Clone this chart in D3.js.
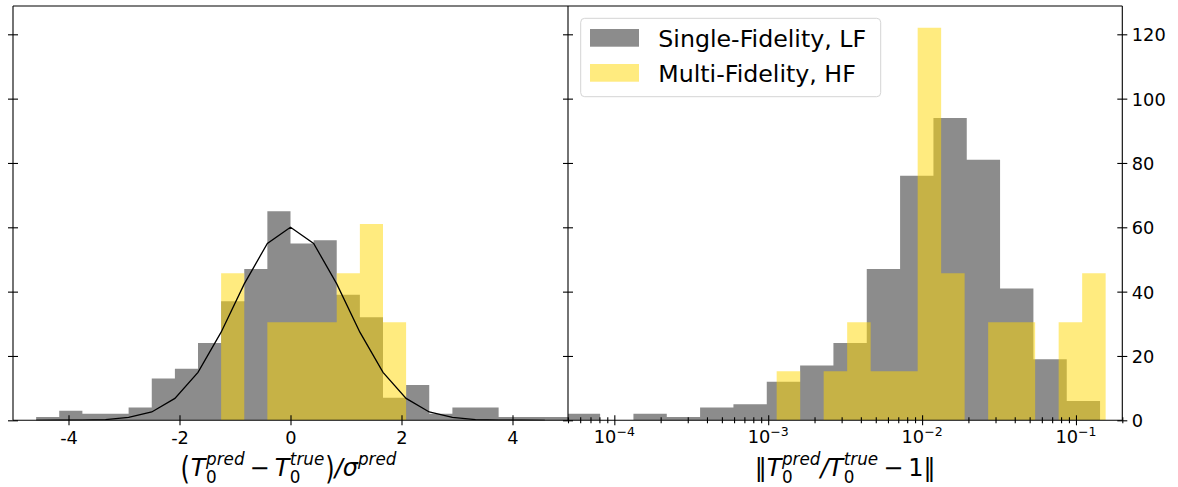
<!DOCTYPE html>
<html>
<head>
<meta charset="utf-8">
<script src="https://cdn.jsdelivr.net/npm/d3@7"></script>
<style>
  html, body { margin: 0; padding: 0; background: #fff; }
  svg { display: block; font-family: "DejaVu Sans", sans-serif; }
</style>
</head>
<body>
<svg id="chart" width="1178" height="487"></svg>
<script>
// ---------------- DATA ----------------
// Left panel: standardized residuals, histogram bin edges (shared by both series)
const leftEdges = [-4.583, -4.167, -3.75, -3.333, -2.917, -2.5, -2.083, -1.667, -1.25, -0.833, -0.417, 0,
                   0.417, 0.833, 1.25, 1.667, 2.083, 2.5, 2.917, 3.333, 3.75, 4.167, 4.583, 5.0];
const leftSingleLF = [1, 3, 2, 2, 4, 13, 16, 24, 37, 47, 65, 55, 56, 39, 32, 7, 11, 2, 4, 4, 1, 1, 1];
const leftMultiEdges = [-1.25, -0.833, -0.417, 0, 0.417, 0.833, 1.25, 1.667, 2.083];
const leftMultiHF = [45.75, 0, 30.5, 30.5, 30.5, 45.75, 61, 30.5];
// reference normal curve (at the bin edges)
const curveX = [-4.583, -4.167, -3.75, -3.333, -2.917, -2.5, -2.083, -1.667, -1.25, -0.833, -0.417, 0,
                0.417, 0.833, 1.25, 1.667, 2.083, 2.5, 2.917, 3.333, 3.75, 4.167, 4.583];
const curveY = [0, 0.01, 0.05, 0.23, 0.9, 2.6, 6.8, 14.9, 27.4, 42.4, 55, 60,
                55, 42.4, 27.4, 14.9, 6.8, 2.6, 0.9, 0.23, 0.05, 0.01, 0];

// Right panel: relative error, log-spaced bins
const rightSingleEdges = [4.909e-5, 8.085e-5, 1.331e-4, 2.192e-4, 3.609e-4, 5.943e-4, 9.786e-4, 1.612e-3,
                          2.653e-3, 4.369e-3, 7.194e-3, 1.185e-2, 1.951e-2, 3.212e-2, 5.289e-2, 8.71e-2, 0.1434];
const rightSingleLF = [2, 0, 2, 1, 4, 5, 12, 17, 24, 47, 76, 94, 81, 41, 19, 6];
const rightMultiEdges = [1.135e-3, 1.614e-3, 2.293e-3, 3.259e-3, 4.632e-3, 6.583e-3, 9.359e-3, 1.33e-2,
                         1.89e-2, 2.687e-2, 3.819e-2, 5.428e-2, 7.716e-2, 0.1097, 0.1559];
const rightMultiHF = [15.25, 0, 15.25, 30.5, 15.25, 15.25, 122, 45.75, 0, 30.5, 30.5, 0, 30.5, 45.75];

const yTicks = [0, 20, 40, 60, 80, 100, 120];
const leftXTicks = [-4, -2, 0, 2, 4];
const rightXTicks = [1e-4, 1e-3, 1e-2, 1e-1];
const rightXTickExp = ["\u22124", "\u22123", "\u22122", "\u22121"];
const seriesNames = ["Single-Fidelity, LF", "Multi-Fidelity, HF"];

// ---------------- LAYOUT / STYLE ----------------
const TOP = 6, BOTTOM = 420.3, LX0 = 13, MID = 568, RX1 = 1122.3;
const GRAY = "#8c8c8c", GOLD = "#ffd700", GOLD_ALPHA = 0.5;
const TICK_FS = 17.8, LABEL_FS = 24, LEG_FS = 23.7;

const svg = d3.select("#chart");
const xL = d3.scaleLinear().domain([-5, 5]).range([LX0, MID]);
const xR = d3.scaleLog().domain([5e-5, 0.2]).range([MID, RX1]);
const y = d3.scaleLinear().domain([0, 128.8]).range([BOTTOM, TOP]);

const defs = svg.append("defs");
defs.append("clipPath").attr("id", "clipL").append("rect")
  .attr("x", LX0).attr("y", TOP).attr("width", MID - LX0).attr("height", BOTTOM - TOP);
defs.append("clipPath").attr("id", "clipR").append("rect")
  .attr("x", MID).attr("y", TOP).attr("width", RX1 - MID).attr("height", BOTTOM - TOP);

// histogram drawn as one path (one sub-rectangle per non-empty bin) so no seams appear
function hist(g, xs, edges, counts, fill, opacity) {
  const p = d3.path();
  counts.forEach((c, i) => {
    if (c <= 0) return;
    const xa = xs(edges[i]), xb = xs(edges[i + 1]);
    p.rect(xa, y(c), xb - xa, y(0) - y(c));
  });
  g.append("path").attr("d", p.toString())
    .attr("fill", fill).attr("fill-opacity", opacity);
}

// Left panel
const gL = svg.append("g").attr("clip-path", "url(#clipL)");
hist(gL, xL, leftEdges, leftSingleLF, GRAY, 1);
hist(gL, xL, leftMultiEdges, leftMultiHF, GOLD, GOLD_ALPHA);
gL.append("path")
  .datum(curveX.map((x, i) => [x, curveY[i]]))
  .attr("d", d3.line().x(d => xL(d[0])).y(d => y(d[1])))
  .attr("fill", "none").attr("stroke", "#000").attr("stroke-width", 1.3);

// Right panel
const gR = svg.append("g").attr("clip-path", "url(#clipR)");
hist(gR, xR, rightSingleEdges, rightSingleLF, GRAY, 1);
hist(gR, xR, rightMultiEdges, rightMultiHF, GOLD, GOLD_ALPHA);

// ---------------- AXES ----------------
function crossTicks(sel, dir, len) {
  if (dir === "x") sel.selectAll(".tick line").attr("y1", -len).attr("y2", len);
  else sel.selectAll(".tick line").attr("x1", -len).attr("x2", len);
  sel.select(".domain").remove();
  sel.selectAll(".tick line").attr("stroke", "#000").attr("stroke-width", 1.1);
}

// left x axis
const axL = svg.append("g").attr("transform", `translate(0,${BOTTOM})`)
  .call(d3.axisBottom(xL).tickValues(leftXTicks).tickFormat(d => String(d)));
crossTicks(axL, "x", 5);
axL.selectAll(".tick text").attr("y", 24).attr("dy", null)
  .attr("font-size", TICK_FS).attr("font-family", "DejaVu Sans").attr("fill", "#000");

// right x axis major
const axR = svg.append("g").attr("transform", `translate(0,${BOTTOM})`)
  .call(d3.axisBottom(xR).tickValues(rightXTicks).tickFormat(""));
crossTicks(axR, "x", 5);
// right x axis minor
const minor = [];
for (let e = -5; e <= -1; e++) for (let m = 2; m <= 9; m++) {
  const v = m * Math.pow(10, e);
  if (v >= 5e-5 && v <= 0.2) minor.push(v);
}
const axRm = svg.append("g").attr("transform", `translate(0,${BOTTOM})`)
  .call(d3.axisBottom(xR).tickValues(minor).tickFormat(""));
crossTicks(axRm, "x", 3);

// y axes (ticks at left spine, middle spine, right spine with labels)
[LX0, MID].forEach(px => {
  const a = svg.append("g").attr("transform", `translate(${px},0)`)
    .call(d3.axisLeft(y).tickValues(yTicks).tickFormat(""));
  crossTicks(a, "y", 5);
});
const axY = svg.append("g").attr("transform", `translate(${RX1},0)`)
  .call(d3.axisRight(y).tickValues(yTicks).tickFormat(d => String(d)));
crossTicks(axY, "y", 5);
axY.selectAll(".tick text").attr("x", 9.5).attr("dy", "0.36em")
  .attr("font-size", TICK_FS).attr("font-family", "DejaVu Sans").attr("fill", "#000");

// spines
const sp = svg.append("g").attr("stroke", "#000").attr("stroke-width", 1.1);
sp.append("line").attr("x1", LX0).attr("x2", RX1).attr("y1", TOP).attr("y2", TOP);
sp.append("line").attr("x1", LX0).attr("x2", RX1).attr("y1", BOTTOM).attr("y2", BOTTOM);
[LX0, MID, RX1].forEach(px => sp.append("line").attr("x1", px).attr("x2", px).attr("y1", TOP).attr("y2", BOTTOM));

// ---------------- MATH-LIKE TEXT ----------------
function mathText(cx, baseline, pieces) {
  const g = svg.append("g");
  let cursor = 0, lastStart = 0;
  pieces.forEach(p => {
    const el = g.append("text")
      .attr("font-size", p.s)
      .attr("font-style", p.it ? "italic" : "normal")
      .attr("font-family", "DejaVu Sans")
      .attr("y", baseline + (p.dy || 0))
      .attr("fill", "#000")
      .text(p.t);
    if (p.sy) el.attr("transform", `translate(0,${baseline}) scale(1,${p.sy}) translate(0,${-baseline})`);
    const w = el.node().getComputedTextLength();
    const start = p.stack ? lastStart : cursor + (p.pl || 0);
    el.attr("x", start);
    const end = start + w + (p.pr || 0);
    cursor = p.stack ? Math.max(cursor, end) : end;
    lastStart = start;
  });
  g.attr("transform", `translate(${cx - cursor / 2},0)`);
  return g;
}

// right x tick labels 10^n
rightXTicks.forEach((v, i) => {
  mathText(xR(v), BOTTOM + 23, [
    { t: "10", s: TICK_FS },
    { t: rightXTickExp[i], s: 12.5, dy: -7.6 }
  ]);
});

const S = LABEL_FS, SS = 16.8, SUB = 7, SUP = -11;
mathText(xL(0) - 2, 476, [
  { t: "(", s: 24, dy: 2.5, sy: 1.3 },
  { t: "T", s: S, it: true, pl: 1 },
  { t: "0", s: SS, dy: SUB, pl: 0.5 },
  { t: "pred", s: SS, it: true, dy: SUP, stack: true },
  { t: "\u2212", s: S, pl: 5, pr: 5 },
  { t: "T", s: S, it: true },
  { t: "0", s: SS, dy: SUB, pl: 0.5 },
  { t: "true", s: SS, it: true, dy: SUP, stack: true },
  { t: ")", s: 24, dy: 2.5, sy: 1.3, pl: 1 },
  { t: "/", s: S, it: true },
  { t: "\u03c3", s: S, it: true },
  { t: "pred", s: SS, it: true, dy: SUP }
]);
mathText((MID + RX1) / 2, 476, [
  { t: "\u2016", s: S },
  { t: "T", s: S, it: true },
  { t: "0", s: SS, dy: SUB, pl: 0.5 },
  { t: "pred", s: SS, it: true, dy: SUP, stack: true },
  { t: "/", s: S, it: true },
  { t: "T", s: S, it: true },
  { t: "0", s: SS, dy: SUB, pl: 0.5 },
  { t: "true", s: SS, it: true, dy: SUP, stack: true },
  { t: "\u2212", s: S, pl: 5, pr: 5 },
  { t: "1", s: S },
  { t: "\u2016", s: S }
]);

// ---------------- LEGEND ----------------
const lg = svg.append("g");
lg.append("rect").attr("x", 580.7).attr("y", 18.3).attr("width", 300).attr("height", 78.4)
  .attr("rx", 4).attr("fill", "#fff").attr("fill-opacity", 0.8)
  .attr("stroke", "#d4d4d4").attr("stroke-width", 1);
const legFills = [[GRAY, 1], [GOLD, GOLD_ALPHA]];
seriesNames.forEach((name, i) => {
  const yy = 29 + i * 35;
  lg.append("rect").attr("x", 590).attr("y", yy).attr("width", 49).attr("height", 17.7)
    .attr("fill", legFills[i][0]).attr("fill-opacity", legFills[i][1]);
  lg.append("text").attr("x", 658.3).attr("y", yy + 17.5)
    .attr("font-size", LEG_FS).attr("font-family", "DejaVu Sans").attr("fill", "#000").text(name);
});
</script>
</body>
</html>
